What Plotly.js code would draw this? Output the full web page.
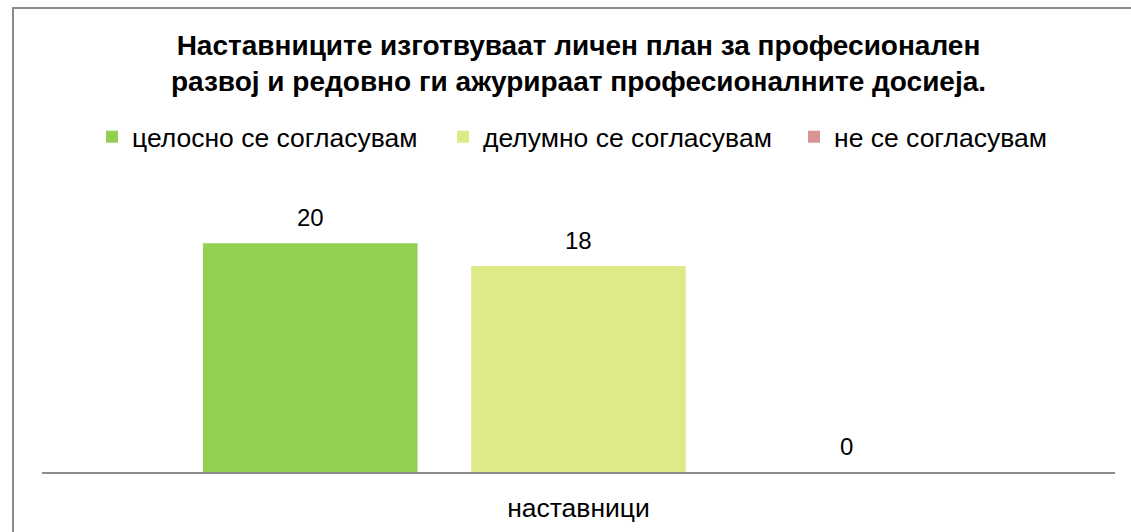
<!DOCTYPE html>
<html>
<head>
<meta charset="utf-8">
<script src="https://cdn.plot.ly/plotly-3.0.1.min.js"></script>
<style>
  html, body { margin: 0; padding: 0; background: #ffffff; }
  #wrap { position: relative; width: 1131px; height: 532px; overflow: hidden; }
  #chart { position: absolute; left: 0; top: 0; width: 1131px; height: 532px; }
  #frame { position: absolute; left: 12px; top: 7px; width: 1200px; height: 600px;
           border-left: 2px solid #8c8c8c; border-top: 2px solid #8c8c8c; pointer-events: none; }
</style>
</head>
<body>
<div id="wrap">
  <div id="chart"></div>
  <div id="frame"></div>
</div>
<script>
// ---- data ----
const categories = ["наставници"];
const seriesNames = ["целосно се согласувам", "делумно се согласувам", "не се согласувам"];
const seriesValues = [[20], [18], [0]];
const seriesColors = ["#92D050", "#DDEA87", "#D99594"];
const chartTitle = "Наставниците изготвуваат личен план за професионален<br>развој и редовно ги ажурираат професионалните досиеја.";

// ---- layout constants ----
const W = 1131, H = 532;
const margin = {l: 42, r: 16, t: 186, b: 60};
const bargap = 0.25, bargroupgap = 0.2;
const FONT = "Liberation Sans, Arial, sans-serif";
const legendEntry = 306;

const traces = seriesNames.map((name, i) => ({
  type: "bar",
  name: name,
  x: categories,
  y: seriesValues[i],
  marker: {color: seriesColors[i], line: {width: 0}},
  legendwidth: i === seriesNames.length - 1 ? 230 : legendEntry,
  hoverinfo: "skip"
}));

const plotW = W - margin.l - margin.r;
const slot = plotW * (1 - bargap) / seriesNames.length;
const annotations = [];
seriesNames.forEach((name, i) => {
  categories.forEach((c, j) => {
    annotations.push({
      x: c, y: seriesValues[i][j], xref: "x", yref: "y",
      text: String(seriesValues[i][j]),
      showarrow: false,
      xshift: (i - (seriesNames.length - 1) / 2) * slot,
      yshift: 26,
      yanchor: "middle",
      font: {family: FONT, size: 24, color: "#000000"}
    });
  });
});

const layout = {
  width: W, height: H,
  margin: margin,
  paper_bgcolor: "rgba(0,0,0,0)",
  plot_bgcolor: "rgba(0,0,0,0)",
  font: {family: FONT, size: 24, color: "#000000"},
  title: {
    text: "<b>" + chartTitle + "</b>",
    x: 0.5, xref: "paper", xanchor: "center",
    y: 1 - 55 / H, yref: "container", yanchor: "top",
    font: {family: FONT, size: 28, color: "#000000"}
  },
  barmode: "group",
  bargap: bargap,
  bargroupgap: bargroupgap,
  showlegend: true,
  legend: {
    orientation: "h",
    xref: "container", yref: "container",
    x: 92 / W, xanchor: "left",
    y: 1 - 137 / H, yanchor: "middle",
    entrywidth: legendEntry, entrywidthmode: "pixels",
    itemclick: false, itemdoubleclick: false,
    font: {family: FONT, size: 26.5, color: "#000000"},
    bgcolor: "rgba(0,0,0,0)", borderwidth: 0
  },
  xaxis: {
    type: "category",
    showline: true, linecolor: "#8c8c8c", linewidth: 2,
    ticks: "", showgrid: false, zeroline: false,
    ticklabelstandoff: 11,
    tickfont: {family: FONT, size: 26.5, color: "#000000"},
    fixedrange: true
  },
  yaxis: {
    range: [0, 25],
    visible: false, showgrid: false, zeroline: false,
    fixedrange: true
  },
  annotations: annotations
};

Plotly.newPlot("chart", traces, layout, {displayModeBar: false, staticPlot: true});
</script>
</body>
</html>
